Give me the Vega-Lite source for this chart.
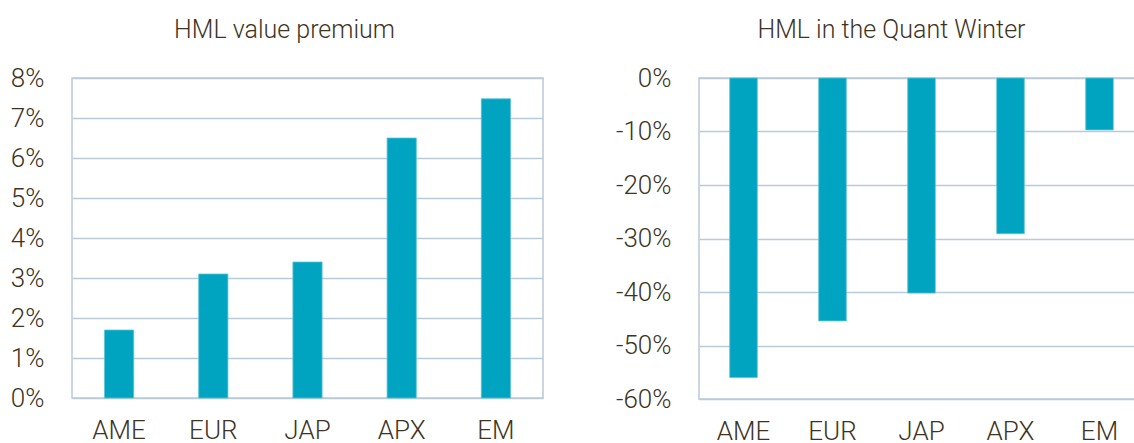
{
  "$schema": "https://vega.github.io/schema/vega-lite/v6.json",
  "padding": {"left": 0, "top": 17, "right": 0, "bottom": 0},
  "background": "white",
  "spacing": 70,
  "config": {
    "font": "Roboto",
    "view": {"stroke": "#b9cad9", "strokeWidth": 1.5},
    "axis": {
      "labelFont": "Roboto",
      "labelFontWeight": 300,
      "labelFontSize": 26,
      "labelColor": "#3d3424",
      "ticks": false,
      "domain": false,
      "gridColor": "#b9cad9",
      "gridWidth": 1.5,
      "gridOpacity": 1,
      "title": null
    },
    "title": {
      "font": "Roboto",
      "fontWeight": 300,
      "fontSize": 25,
      "color": "#3d3424",
      "anchor": "middle",
      "frame": "group",
      "offset": 22
    },
    "bar": {"color": "#00a4c1", "stroke": "#5cc3d6", "strokeWidth": 0.8}
  },
  "hconcat": [
    {
      "title": {"text": "HML value premium", "dx": -23},
      "width": 471,
      "height": 320,
      "data": {"values": [
        {"region": "AME", "value": 1.7},
        {"region": "EUR", "value": 3.1},
        {"region": "JAP", "value": 3.4},
        {"region": "APX", "value": 6.5},
        {"region": "EM", "value": 7.48}
      ]},
      "mark": {"type": "bar"},
      "encoding": {
        "x": {
          "field": "region", "type": "nominal", "sort": null,
          "scale": {"paddingInner": 0.69, "paddingOuter": 0.345},
          "axis": {"labelAngle": 0, "labelPadding": 19, "grid": false}
        },
        "y": {
          "field": "value", "type": "quantitative",
          "scale": {"domain": [0, 8], "nice": false},
          "axis": {"values": [0,1,2,3,4,5,6,7,8], "labelExpr": "datum.value + '%'", "labelPadding": 28, "minExtent": 71, "maxExtent": 71}
        }
      }
    },
    {
      "title": {"text": "HML in the Quant Winter", "dx": -30},
      "width": 445,
      "height": 321,
      "data": {"values": [
        {"region": "AME", "value": -56},
        {"region": "EUR", "value": -45.4},
        {"region": "JAP", "value": -40.2},
        {"region": "APX", "value": -29.1},
        {"region": "EM", "value": -9.7}
      ]},
      "mark": {"type": "bar"},
      "encoding": {
        "x": {
          "field": "region", "type": "nominal", "sort": null,
          "scale": {"paddingInner": 0.69, "paddingOuter": 0.345},
          "axis": {"labelAngle": 0, "labelPadding": 19, "grid": false}
        },
        "y": {
          "field": "value", "type": "quantitative",
          "scale": {"domain": [-60, 0], "nice": false},
          "axis": {"values": [-60,-50,-40,-30,-20,-10,0], "labelExpr": "datum.value + '%'", "labelPadding": 28, "minExtent": 80, "maxExtent": 80}
        }
      }
    }
  ]
}
